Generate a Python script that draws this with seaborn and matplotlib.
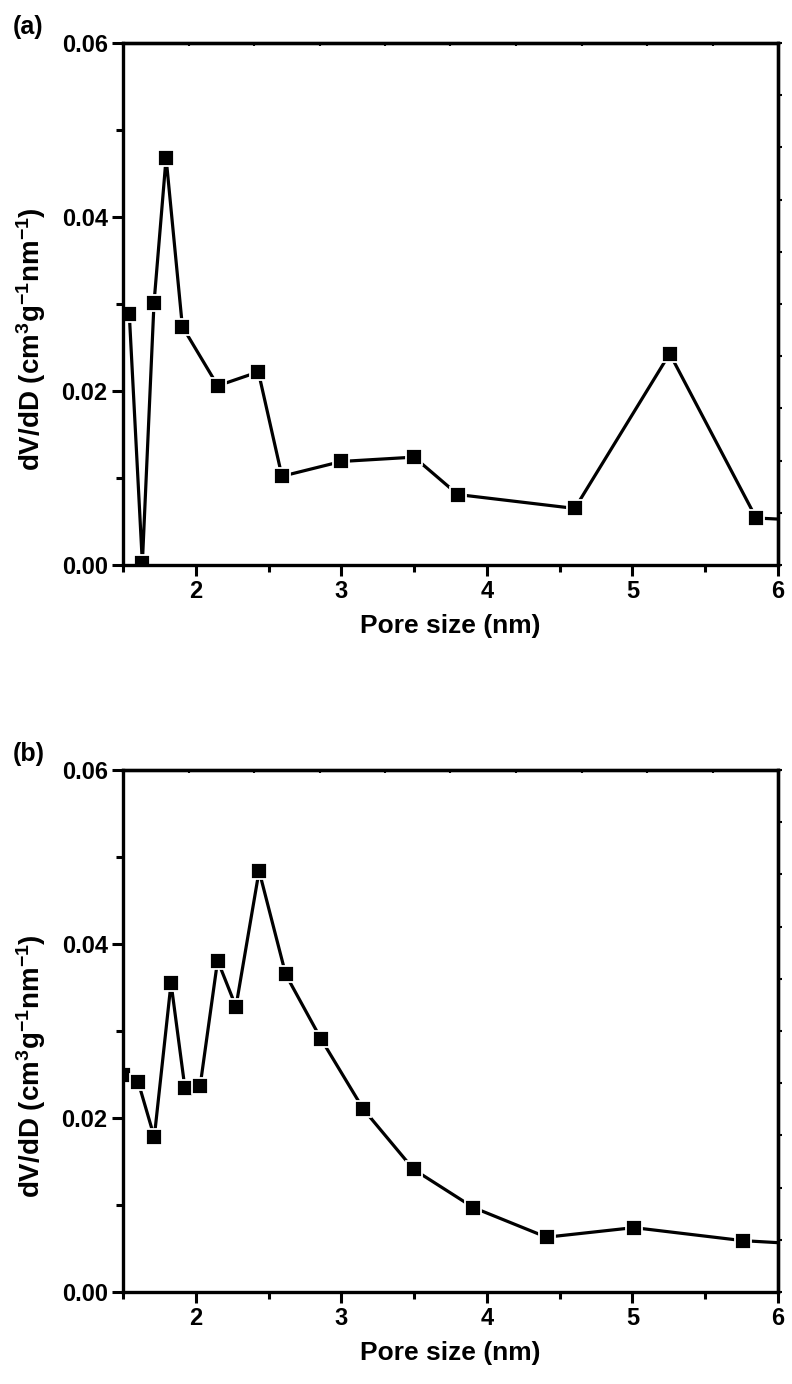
import numpy as np
import pandas as pd
import matplotlib
matplotlib.use("Agg")
import matplotlib.pyplot as plt
import seaborn as sns
from matplotlib.ticker import MultipleLocator

# Panel (a) data
pore_a = [1.543, 1.633, 1.713, 1.796, 1.908, 2.151, 2.43, 2.592, 3.0, 3.50, 3.80, 4.604, 5.256, 5.85, 6.6]
dvdd_a = [0.0289, 0.0002, 0.0301, 0.0468, 0.0274, 0.0206, 0.0222, 0.0102, 0.0119, 0.0124, 0.0081, 0.0065, 0.0243, 0.0054, 0.0048]
# Panel (b) data
pore_b = [1.50, 1.605, 1.715, 1.83, 1.925, 2.03, 2.15, 2.276, 2.435, 2.618, 2.86, 3.152, 3.496, 3.908, 4.41, 5.01, 5.76, 6.6]
dvdd_b = [0.0249, 0.0241, 0.0178, 0.0355, 0.0235, 0.0237, 0.0381, 0.0328, 0.0484, 0.0365, 0.0291, 0.0210, 0.0141, 0.0097, 0.0063, 0.0074, 0.0059, 0.0051]

panel_labels = ["(a)", "(b)"]
xlabel = "Pore size (nm)"
ylabel = r"dV/dD (cm$^{3}$g$^{-1}$nm$^{-1}$)"
yticks = [0.00, 0.02, 0.04, 0.06]
xticks = [2, 3, 4, 5, 6]

sns.set_style("white")
plt.rcParams["font.family"] = ["Liberation Sans", "DejaVu Sans"]
plt.rcParams["font.weight"] = "bold"
plt.rcParams["text.color"] = "black"
plt.rcParams["axes.labelcolor"] = "black"
plt.rcParams["xtick.color"] = "black"
plt.rcParams["ytick.color"] = "black"
plt.rcParams["mathtext.fontset"] = "custom"
plt.rcParams["mathtext.rm"] = "Liberation Sans:bold"
plt.rcParams["mathtext.bf"] = "Liberation Sans:bold"
plt.rcParams["mathtext.default"] = "bf"

fig = plt.figure(figsize=(7.92, 13.84), dpi=100)
positions = [
    [123 / 792, 1 - 565 / 1384, (778 - 123) / 792, (565 - 43) / 1384],
    [123 / 792, 1 - 1292 / 1384, (778 - 123) / 792, (1292 - 770) / 1384],
]
datasets = [(pore_a, dvdd_a), (pore_b, dvdd_b)]

for pos, (xs, ys), lab in zip(positions, datasets, panel_labels):
    ax = fig.add_axes(pos)
    df = pd.DataFrame({"x": xs, "y": ys})
    sns.lineplot(data=df, x="x", y="y", sort=False, ax=ax, color="black",
                 linewidth=2.3, marker="s", markersize=11,
                 markerfacecolor="black", markeredgecolor="white",
                 markeredgewidth=1.3, clip_on=True)
    ax.set_xlim(1.5, 6)
    ax.set_ylim(0, 0.06)
    ax.set_xticks(xticks)
    ax.set_yticks(yticks)
    ax.set_yticklabels([f"{v:.2f}" for v in yticks])
    ax.xaxis.set_minor_locator(MultipleLocator(0.5))
    ax.yaxis.set_minor_locator(MultipleLocator(0.01))
    ax.tick_params(axis="both", which="major", direction="out", length=8, width=2.2,
                   labelsize=17, pad=3, bottom=True, left=True, top=False, right=False,
                   colors="black")
    ax.tick_params(axis="both", which="minor", direction="out", length=5, width=2.2,
                   bottom=True, left=True, top=False, right=False, colors="black")
    for t in ax.get_xticklabels() + ax.get_yticklabels():
        t.set_fontweight("bold")
    for s in ax.spines.values():
        s.set_linewidth(2.4)
        s.set_color("black")
        s.set_visible(True)
    # small marks on top and right spines
    secx = ax.secondary_xaxis("top")
    secx.set_xticks(np.linspace(1.5, 6, 11))
    secx.tick_params(length=2, width=1.5, labeltop=False, direction="in", colors="black")
    secx.spines["top"].set_linewidth(2.4)
    secy = ax.secondary_yaxis("right")
    secy.set_yticks(np.linspace(0, 0.06, 11))
    secy.tick_params(length=3, width=1.5, labelright=False, direction="out", colors="black")
    secy.spines["right"].set_linewidth(2.4)

    ax.set_xlabel(xlabel, fontsize=19, fontweight="bold", labelpad=8, color="black")
    ax.set_ylabel(ylabel, fontsize=20, fontweight="bold", color="black")
    ax.yaxis.set_label_coords(-0.114, 0.432)
    ax.text(-0.168, 1.031, lab, transform=ax.transAxes, fontsize=18,
            fontweight="bold", ha="left", va="center", color="black")

fig.savefig("out.png", dpi=100)
